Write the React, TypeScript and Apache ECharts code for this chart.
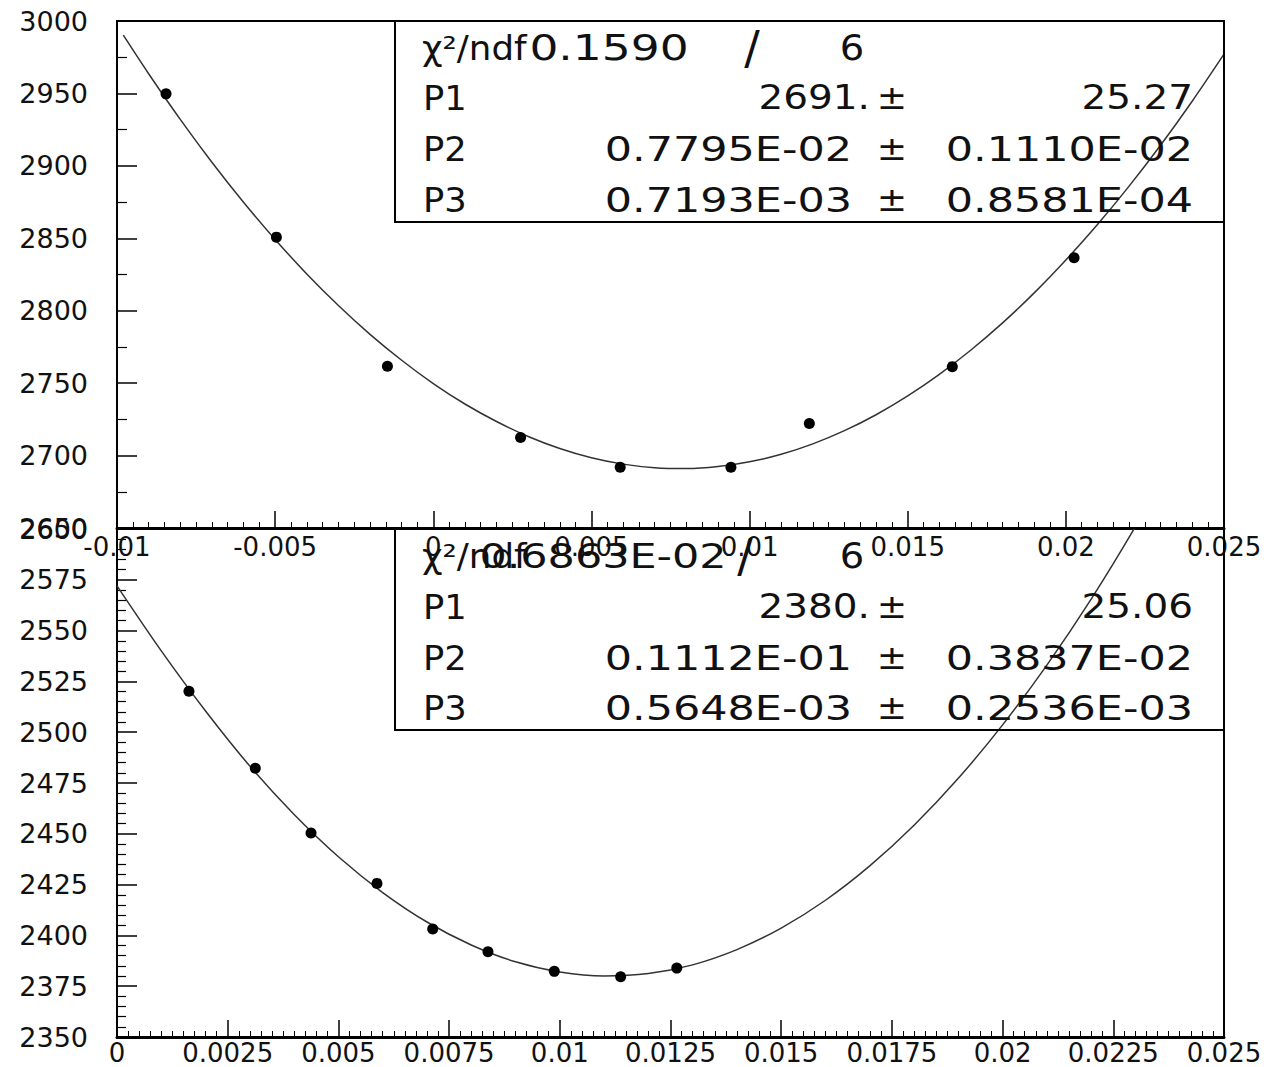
import React, { useEffect, useRef } from "react";
import * as echarts from "echarts";

// ---- Data ----
const topPointX = [-0.00845, -0.00496, -0.00145, 0.00276, 0.00591, 0.00941, 0.01189, 0.01641, 0.02026];
const topPointY = [2949.7, 2850.8, 2761.6, 2712.4, 2691.9, 2691.9, 2722.1, 2761.4, 2836.5];

const bottomPointX = [0.001625, 0.003123, 0.004382, 0.005871, 0.00713, 0.008378, 0.009876, 0.011374, 0.012642];
const bottomPointY = [2520.1, 2482.3, 2450.4, 2425.6, 2403.1, 2391.9, 2382.3, 2379.6, 2383.9];

// fit curves
const topFitX = [
  -0.0098, -0.009, -0.008, -0.007, -0.006, -0.005, -0.004, -0.003, -0.002, -0.001,
  0, 0.001, 0.002, 0.003, 0.004, 0.005, 0.006, 0.007, 0.008, 0.009, 0.01, 0.011,
  0.012, 0.013, 0.014, 0.015, 0.016, 0.017, 0.018, 0.019, 0.02, 0.021, 0.022, 0.023,
  0.024, 0.025,
];
const topFitY = [
  2990.2, 2963.6, 2932.1, 2902.5, 2874.9, 2849.2, 2825.4, 2803.6, 2783.7, 2765.8,
  2749.7, 2735.6, 2723.5, 2713.2, 2704.9, 2698.5, 2694.1, 2691.6, 2691.0, 2692.4, 2695.7, 2700.9,
  2708.1, 2717.2, 2728.2, 2741.2, 2756.1, 2772.9, 2791.6, 2812.3, 2835.0, 2859.5, 2886.0, 2914.4,
  2944.8, 2977.1,
];
const bottomFitX = [
  0, 0.001, 0.002, 0.003, 0.004, 0.005, 0.006, 0.007, 0.008, 0.009, 0.01, 0.011,
  0.012, 0.013, 0.014, 0.015, 0.016, 0.017, 0.018, 0.019, 0.02, 0.021, 0.022, 0.023, 0.024,
];
const bottomFitY = [
  2572.0, 2540.0, 2510.4, 2483.3, 2459.5, 2438.7, 2421.1, 2406.6, 2395.3, 2387.0, 2382.0, 2380.0,
  2381.2, 2385.5, 2393.0, 2403.6, 2417.3, 2434.2, 2454.2, 2477.3, 2503.6, 2533.0, 2565.5, 2601.2, 2640.0,
];

// axis ranges / ticks
const topXRange = [-0.01, 0.025, 0.005];
const topYRange = [2650, 3000, 50];
const bottomXRange = [0, 0.025, 0.0025];
const bottomYRange = [2350, 2600, 25];

// stat boxes
const topChi = ["0.1590", "6"];
const topParams = ["P1", "P2", "P3"];
const topValues = ["2691.", "0.7795E-02", "0.7193E-03"];
const topErrors = ["25.27", "0.1110E-02", "0.8581E-04"];
const bottomChi = ["0.6863E-02", "6"];
const bottomParams = ["P1", "P2", "P3"];
const bottomValues = ["2380.", "0.1112E-01", "0.5648E-03"];
const bottomErrors = ["25.06", "0.3837E-02", "0.2536E-03"];

const FONT = "DejaVu Sans";
const INK = "#111";

function fmt(v: number) {
  return parseFloat(v.toFixed(6)).toString();
}

function zip(xs: number[], ys: number[]) {
  return xs.map((x, i) => [x, ys[i]]);
}

function txt(text: string, x: number, y: number, align: string, scaleX: number, size = 33) {
  return {
    type: "text",
    x,
    y,
    scaleX,
    z: 100,
    style: {
      text,
      fontFamily: FONT,
      fontSize: size,
      fill: INK,
      align,
      verticalAlign: "middle",
    },
  };
}

function statBox(
  top: number,
  height: number,
  rowY: number[],
  chi: string[],
  chiCenter: number,
  slashX: number,
  params: string[],
  values: string[],
  errors: string[]
) {
  const els: any[] = [];
  els.push({
    type: "rect",
    z: 99,
    shape: { x: 395, y: top, width: 829, height },
    style: { fill: "none", stroke: "#000", lineWidth: 2 },
  });
  els.push(txt("χ²/ndf", 422, rowY[0], "left", 1.08));
  const isExp = chi[0].includes("E");
  els.push(txt(chi[0], chiCenter, rowY[0], "center", 1.3, isExp ? 33 : 35));
  els.push(txt("/", slashX, rowY[0], "center", 1.0, 46));
  els.push(txt(chi[1], 852, rowY[0], "center", 1.1, 35));
  params.forEach((p, i) => {
    const y = rowY[i + 1];
    els.push(txt(p, 423, y, "left", 1.07));
    const v = values[i];
    els.push(txt(v, v.includes("E") ? 852 : 870, y, "right", v.includes("E") ? 1.3 : 1.18));
    els.push(txt("±", 892, y, "center", 1.1));
    const e = errors[i];
    els.push(txt(e, 1193, y, "right", e.includes("E") ? 1.3 : 1.18));
  });
  return els;
}

function xAxisCfg(gridIndex: number, r: number[], margin: number) {
  return {
    gridIndex,
    type: "value",
    min: r[0],
    max: r[1],
    interval: r[2],
    axisLine: { show: true, onZero: false, lineStyle: { color: "#000", width: 3 } },
    axisTick: { show: true, inside: true, length: 17, lineStyle: { color: "#000", width: 1.5 } },
    minorTick: { show: true, splitNumber: 10, length: 6, lineStyle: { color: "#000", width: 1 } },
    splitLine: { show: false },
    minorSplitLine: { show: false },
    axisLabel: {
      margin,
      fontSize: 26,
      lineHeight: 26,
      fontFamily: FONT,
      color: INK,
      showMinLabel: true,
      showMaxLabel: true,
      formatter: (v: number) => fmt(v),
    },
  };
}

function yAxisCfg(gridIndex: number, r: number[], minorSplit: number, minorLen: number) {
  return {
    gridIndex,
    type: "value",
    min: r[0],
    max: r[1],
    interval: r[2],
    axisLine: { show: true, onZero: false, lineStyle: { color: "#000", width: 2 } },
    axisTick: { show: true, inside: true, length: 20, lineStyle: { color: "#000", width: 1.5 } },
    minorTick: { show: true, splitNumber: minorSplit, length: minorLen, lineStyle: { color: "#000", width: 1.2 } },
    splitLine: { show: false },
    minorSplitLine: { show: false },
    axisLabel: {
      margin: 29,
      fontSize: 27,
      lineHeight: 27,
      fontFamily: FONT,
      color: INK,
      showMinLabel: true,
      showMaxLabel: true,
      formatter: (v: number) => fmt(v),
    },
  };
}

export default function App() {
  const ref = useRef<HTMLDivElement>(null);

  useEffect(() => {
    if (!ref.current) return;
    const chart = echarts.init(ref.current, undefined, { renderer: "svg" });

    const graphics = [
      ...statBox(21, 201, [48, 98, 149, 200], topChi, 609, 752, topParams, topValues, topErrors),
      ...statBox(528, 202, [556, 607, 658, 708], bottomChi, 603, 745, bottomParams, bottomValues, bottomErrors),
    ];

    chart.setOption({
      animation: false,
      backgroundColor: "#fff",
      grid: [
        { left: 117, top: 21, width: 1107, height: 507, show: true, borderColor: "#000", borderWidth: 2, backgroundColor: "transparent" },
        { left: 117, top: 529, width: 1107, height: 508, show: true, borderColor: "#000", borderWidth: 2, backgroundColor: "transparent" },
      ],
      xAxis: [xAxisCfg(0, topXRange, 6), xAxisCfg(1, bottomXRange, 3)],
      yAxis: [yAxisCfg(0, topYRange, 2, 10), yAxisCfg(1, bottomYRange, 5, 9)],
      series: [
        {
          type: "line",
          xAxisIndex: 0,
          yAxisIndex: 0,
          data: zip(topFitX, topFitY),
          smooth: 0.3,
          showSymbol: false,
          clip: true,
          lineStyle: { color: "#333", width: 1.5 },
          z: 2,
        },
        {
          type: "scatter",
          xAxisIndex: 0,
          yAxisIndex: 0,
          data: zip(topPointX, topPointY),
          symbol: "circle",
          symbolSize: 11,
          itemStyle: { color: "#000", opacity: 1 },
          z: 3,
        },
        {
          type: "line",
          xAxisIndex: 1,
          yAxisIndex: 1,
          data: zip(bottomFitX, bottomFitY),
          smooth: 0.3,
          showSymbol: false,
          clip: true,
          lineStyle: { color: "#333", width: 1.5 },
          z: 2,
        },
        {
          type: "scatter",
          xAxisIndex: 1,
          yAxisIndex: 1,
          data: zip(bottomPointX, bottomPointY),
          symbol: "circle",
          symbolSize: 11,
          itemStyle: { color: "#000", opacity: 1 },
          z: 3,
        },
      ],
      graphic: graphics,
    });

    return () => chart.dispose();
  }, []);

  return (
    <div
      ref={ref}
      style={{ position: "fixed", left: 0, top: 0, width: 1270, height: 1067, background: "#fff" }}
    />
  );
}
